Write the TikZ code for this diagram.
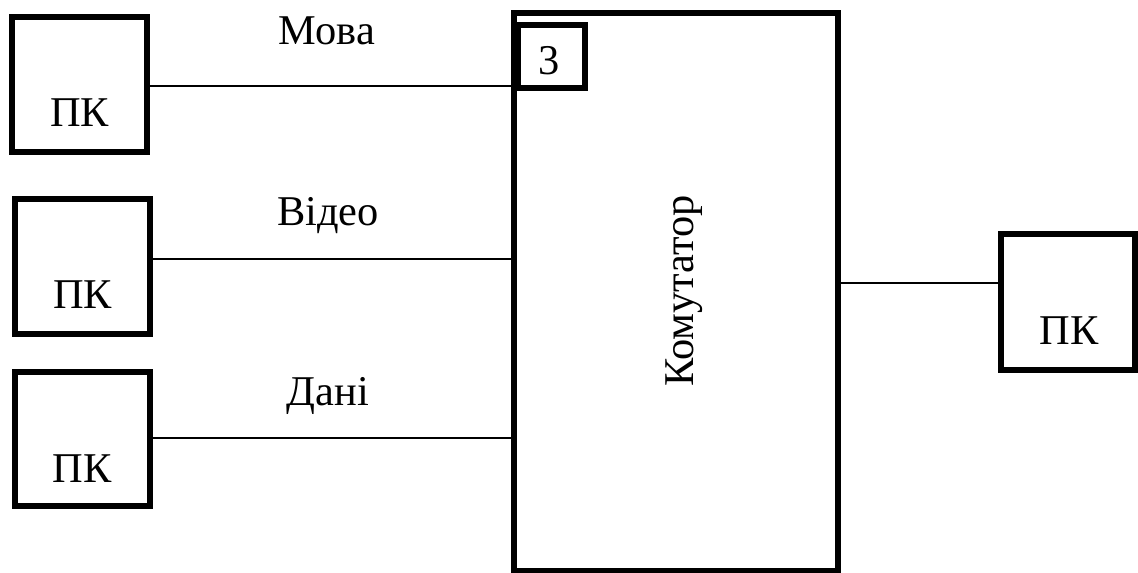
\documentclass[tikz,border=0pt]{standalone}
\usepackage{fontspec}
\setmainfont{Liberation Serif}
\begin{document}
\begin{tikzpicture}[x=0.5pt,y=-0.5pt,
  box/.style={draw,line width=3pt,inner sep=0pt,minimum width=#1},
  wire/.style={line width=0.9pt},
  txt/.style={font=\fontsize{21.2}{25}\selectfont,inner sep=0pt,anchor=base}]
\useasboundingbox (0,0) rectangle (1138,572);
% boxes
\node[box=67.5pt,minimum height=67.5pt] (pc1) at (79.5,84.5) {};
\node[box=67.5pt,minimum height=67.5pt] (pc2) at (82.5,266.5) {};
\node[box=67.5pt,minimum height=67pt] (pc3) at (82.5,439) {};
\node[box=67pt,minimum height=68pt] (pcR) at (1068,302) {};
\node[box=161.75pt,minimum height=279pt] (kom) at (675.75,292) {};
\node[box=33.5pt,minimum height=31.25pt] (sm) at (551,56.75) {};
% texts
\node[txt] (t1) at (79.5,127) {ПК};
\node[txt] (t2) at (82.5,308) {ПК};
\node[txt] (t3) at (82,482) {ПК};
\node[txt] (tR) at (1069,344) {ПК};
\node[txt] (l1) at (327,45) {Мова};
\node[txt] (l2) at (328,225) {Відео};
\node[txt] (l3) at (328,405) {Дані};
\node[txt,rotate=90] (tk) at (693,291) {Комутатор};
\node[txt] (t3n) at (549,75) {3};
% connectors
\path ([yshift=-0.75pt]pc1.east) coordinate (a1);
\path ([yshift=3.75pt]pc2.east) coordinate (a2);
\path ([yshift=0.5pt]pc3.east) coordinate (a3);
\path ([yshift=4.5pt]kom.east) coordinate (a4);
\draw[wire] (a1) -- (a1 -| kom.west);
\draw[wire] (a2) -- (a2 -| kom.west);
\draw[wire] (a3) -- (a3 -| kom.west);
\draw[wire] (a4) -- (a4 -| pcR.west);
\end{tikzpicture}
\end{document}
